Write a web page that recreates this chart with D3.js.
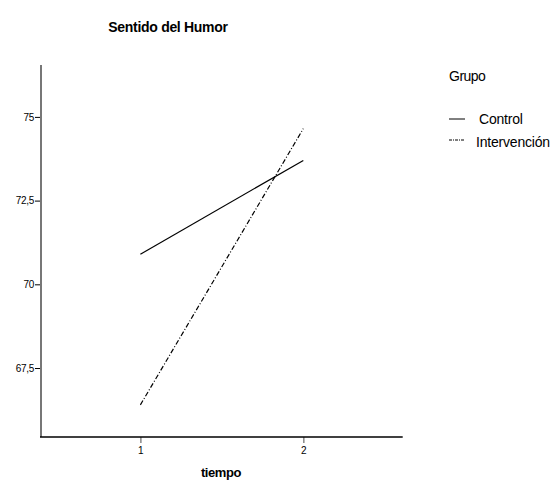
<!DOCTYPE html>
<html>
<head>
<meta charset="utf-8">
<script src="https://cdn.jsdelivr.net/npm/d3@7"></script>
<style>
  body { margin: 0; background: #fff; }
  text { font-family: "Liberation Sans", Arial, sans-serif; }
</style>
</head>
<body>
<svg id="chart" width="559" height="484"></svg>
<script>
// data
const tiempos = [1, 2];
const grupos = ["Control", "Intervención"];
const control = [70.9, 73.7];
const intervencion = [66.4, 74.65];
const yTicks = [67.5, 70, 72.5, 75];

const svg = d3.select("#chart");

const x = d3.scaleLinear().domain([0.39, 2.61]).range([41, 402.7]);
const y = d3.scaleLinear().domain([65.44, 76.55]).range([437, 65]);

const fmt = d => String(d).replace(".", ",");

// title
svg.append("text")
    .attr("x", 168).attr("y", 32)
    .attr("text-anchor", "middle")
    .attr("font-size", 14).attr("font-weight", "bold")
    .attr("letter-spacing", -0.3)
    .text("Sentido del Humor");

// y axis
const yAxis = svg.append("g")
    .attr("transform", "translate(41,0)")
    .call(d3.axisLeft(y).tickValues(yTicks).tickSize(6).tickFormat(fmt));
yAxis.select(".domain").remove();
yAxis.selectAll(".tick line").attr("stroke", "#000");
yAxis.selectAll(".tick text").attr("font-size", 10).attr("font-family", "Liberation Sans, Arial, sans-serif")
    .attr("x", -7).attr("letter-spacing", -0.3);
svg.append("line")
    .attr("x1", 41).attr("x2", 41).attr("y1", y.range()[1]).attr("y2", y.range()[0])
    .attr("stroke", "#777").attr("stroke-width", 2);

// x axis
const xAxis = svg.append("g")
    .attr("transform", "translate(0,437)")
    .call(d3.axisBottom(x).tickValues(tiempos).tickSize(6).tickFormat(d3.format("d")));
xAxis.select(".domain").remove();
xAxis.selectAll(".tick line").attr("stroke", "#888").attr("stroke-width", 1.5);
xAxis.selectAll(".tick text").attr("font-size", 10).attr("font-family", "Liberation Sans, Arial, sans-serif")
    .attr("y", 10);
svg.append("line")
    .attr("x1", 40).attr("x2", x.range()[1]).attr("y1", 437).attr("y2", 437)
    .attr("stroke", "#000").attr("stroke-width", 1.5);

svg.append("text")
    .attr("x", 221).attr("y", 477)
    .attr("text-anchor", "middle")
    .attr("font-size", 13).attr("font-weight", "bold")
    .attr("letter-spacing", -0.4)
    .text("tiempo");

// lines
const line = d3.line().x((d, i) => x(tiempos[i])).y(d => y(d));
const series = [
  { name: grupos[0], values: control, dash: null },
  { name: grupos[1], values: intervencion, dash: "5,2,1,2" }
];

series.forEach(s => {
  svg.append("path")
      .attr("d", line(s.values))
      .attr("fill", "none")
      .attr("stroke", "#000")
      .attr("stroke-width", 1.2)
      .attr("stroke-dasharray", s.dash);
});

// legend
svg.append("text")
    .attr("x", 449).attr("y", 81)
    .attr("font-size", 14).attr("letter-spacing", -0.5)
    .text("Grupo");

const legY = [119, 140];
const legTextY = [124, 147];
const legTextX = [479, 476];
series.forEach((s, i) => {
  svg.append("line")
      .attr("x1", 449).attr("x2", 465)
      .attr("y1", legY[i]).attr("y2", legY[i])
      .attr("stroke", "#000").attr("stroke-width", 1)
      .attr("stroke-dasharray", s.dash ? "3,1,1,1" : null);
  svg.append("text")
      .attr("x", legTextX[i]).attr("y", legTextY[i])
      .attr("font-size", 14).attr("letter-spacing", -0.2)
      .text(s.name);
});
</script>
</body>
</html>
